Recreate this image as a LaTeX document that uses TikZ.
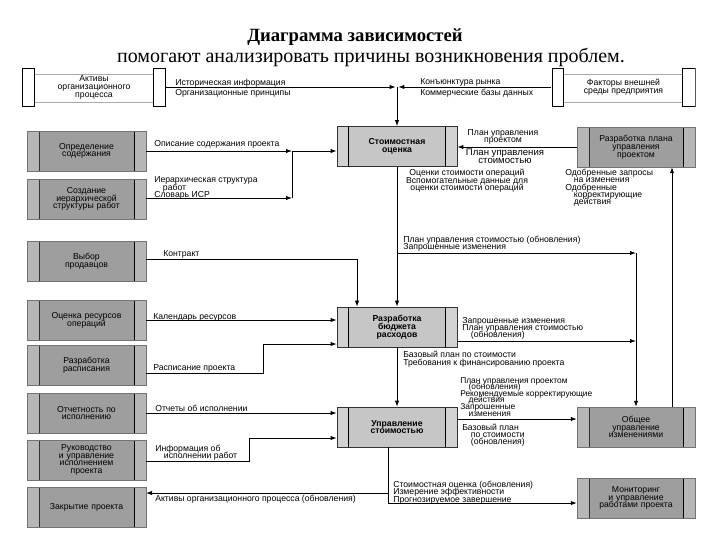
\documentclass[tikz,border=0pt]{standalone}
\usepackage{fontspec}
\setmainfont{Liberation Serif}
\newfontfamily\lblsf{Liberation Sans}
\usepackage{tikz}
\usetikzlibrary{arrows.meta,positioning,calc}
\definecolor{ProcGray}{HTML}{9E9E9E}
\definecolor{ProcStrip}{HTML}{B6B6B6}
\definecolor{TaskGray}{HTML}{C6C6C6}
\definecolor{TaskStrip}{HTML}{D2D2D2}
\definecolor{StoreLine}{HTML}{AAAAAA}
\newcommand{\lblfont}{\lblsf\fontsize{6.5}{5.5}\selectfont\lineskiplimit=-5pt\relax}
\newcommand{\boxfont}{\lblsf\fontsize{6.5}{5.8}\selectfont\lineskiplimit=-5pt\relax}
\newcommand{\bigfont}{\lblsf\fontsize{7.2}{6}\selectfont\lineskiplimit=-5pt\relax}
\newcommand{\tightfont}{\lblsf\fontsize{6.3}{4.95}\selectfont\lineskiplimit=-5pt\relax}

\begin{document}
\begin{tikzpicture}[x=0.75pt,y=-0.75pt,
  lbl/.style={font=\lblfont,inner sep=0pt,align=left,anchor=north west},
  clbl/.style={font=\lblfont,inner sep=0pt,align=center,anchor=north},
  flow/.style={-{Latex[length=4.5pt,width=3.2pt]},line width=0.6pt},
  link/.style={line width=0.6pt},
  store/.style={minimum width=108pt,minimum height=29pt,inner sep=0pt,align=center,font=\boxfont,
    path picture={
      \draw[StoreLine] ([yshift=-4.5pt]path picture bounding box.north west) -- ([yshift=-4.5pt]path picture bounding box.north east);
      \draw[StoreLine] ([yshift=3.8pt]path picture bounding box.south west) -- ([yshift=3.8pt]path picture bounding box.south east);
      \draw[fill=white,line width=0.7pt] ([xshift=0.4pt,yshift=-0.4pt]path picture bounding box.north west) rectangle ([xshift=9pt,yshift=0.4pt]path picture bounding box.south west);
      \draw[fill=white,line width=0.7pt] ([xshift=-0.4pt,yshift=-0.4pt]path picture bounding box.north east) rectangle ([xshift=-9.5pt,yshift=0.4pt]path picture bounding box.south east);
    }},
  proc/.style={fill=ProcGray,draw=black!55,line width=0.3pt,minimum width=89pt,minimum height=30pt,
    text width=66pt,align=center,inner sep=0pt,font=\boxfont,
    path picture={
      \fill[ProcStrip] (path picture bounding box.north west) rectangle ([xshift=9pt]path picture bounding box.south west);
      \fill[ProcStrip] (path picture bounding box.north east) rectangle ([xshift=-8.5pt]path picture bounding box.south east);
      \draw[black!80,line width=0.5pt] ([xshift=9pt]path picture bounding box.north west) -- ([xshift=9pt]path picture bounding box.south west);
      \draw[black,line width=1.2pt] ([xshift=-8.5pt]path picture bounding box.north east) -- ([xshift=-8.5pt]path picture bounding box.south east);
    }},
  task/.style={fill=TaskGray,draw=black!80,line width=0.5pt,minimum width=90pt,minimum height=30pt,
    text width=66pt,align=center,inner sep=0pt,font=\boxfont\bfseries,
    path picture={
      \fill[TaskStrip] (path picture bounding box.north west) rectangle ([xshift=8.3pt]path picture bounding box.south west);
      \fill[TaskStrip] (path picture bounding box.north east) rectangle ([xshift=-9pt]path picture bounding box.south east);
      \draw[black,line width=0.5pt] ([xshift=8.3pt]path picture bounding box.north west) -- ([xshift=8.3pt]path picture bounding box.south west);
      \draw[black,line width=0.5pt] ([xshift=-9pt]path picture bounding box.north east) -- ([xshift=-9pt]path picture bounding box.south east);
    }}]
\useasboundingbox[fill=white] (0,0) rectangle (720,540);

% title
\node[font=\bfseries\fontsize{14}{16}\selectfont] (ttl) at (355,37) {Диаграмма зависимостей};
\node[font=\fontsize{15}{17}\selectfont] (sub) at (371,57) {помогают анализировать причины возникновения проблем.};

% stores
\node[store] (actA) at (94,87.5) {Активы\\организационного\\процесса};
\node[store] (envF) at (623.5,87.5) {Факторы внешней\\среды предприятия};

% processes, left column
\node[proc] (scopeD) at (86.5,151) {Определение\\содержания};
\node[proc] (wbsC) at (86.5,199) {Создание\\иерархической\\структуры работ};
\node[proc] (sellS) at (86.5,261.5) {Выбор\\продавцов};
\node[proc] (resE) at (86.5,320) {Оценка ресурсов\\операций};
\node[proc] (schD) at (86.5,365) {Разработка\\расписания};
\node[proc] (perfR) at (86.5,413) {Отчетность по\\исполнению};
\node[proc] (execD) at (86.5,460) {Руководство\\и управление\\исполнением\\проекта};
\node[proc] (closeP) at (86.5,507) {Закрытие проекта};

% cost processes
\node[task] (costE) at (397,146.5) {Стоимостная\\оценка};
\node[task] (budD) at (397,327) {Разработка\\бюджета\\расходов};
\node[task] (costC) at (397,427) {Управление\\стоимостью};

% processes, right column
\node[proc,minimum width=88.5pt] (pmpD) at (636,147) {Разработка плана\\управления\\проектом};
\node[proc,minimum width=88.5pt] (chgC) at (636,427) {Общее\\управление\\изменениями};
\node[proc,minimum width=88.5pt] (monC) at (636,498) {Мониторинг\\и управление\\работами проекта};

% junctions
\coordinate (jTop) at (397,87);
\coordinate (jScope) at (292,151);
\coordinate (jWbs) at (292,198);
\coordinate (xApp) at (672,0);
\coordinate (jCE) at (397,253);
\coordinate (jCR) at (636,253);
\coordinate (jBR) at (636,341);
\coordinate (kSell) at (357,259);
\coordinate (kSch) at (263,373);
\coordinate (kSch2) at (263,344);
\coordinate (kExe) at (249,461);
\coordinate (kExe2) at (249,438);
\coordinate (kCC) at (0,419);
\coordinate (kMon) at (388,503);
\coordinate (kCls) at (388,493);

% connectors
\draw[flow] (actA.east |- jTop) -- ([xshift=-1pt]jTop);
\draw[flow] (envF.west |- jTop) -- ([xshift=1pt]jTop);
\draw[flow] (jTop) -- (jTop |- costE.north);
\draw[flow] (scopeD.east |- jScope) -- (jScope);
\draw[flow] (wbsC.east |- jWbs) -- (jWbs);
\draw[link] (jScope) -- (jWbs);
\draw[flow] (jScope) -- (jScope -| costE.west);
\draw[flow] (pmpD.west) -- (pmpD.west -| costE.east);
\draw[flow] (chgC.north -| xApp) -- (pmpD.south -| xApp);
\draw[flow] (costE.south) -- (budD.north);
\draw[flow] (jCE) -- (jCR);
\draw[flow] (jCR) -- (chgC.north);
\draw[flow] (budD.east |- jBR) -- (jBR);
\draw[flow] (sellS.east |- kSell) -- (kSell) -- (kSell |- budD.north);
\draw[flow] (resE.east) -- (resE.east -| budD.west);
\draw[flow] (schD.east |- kSch) -- (kSch) -- (kSch2) -- (kSch2 -| budD.west);
\draw[flow] (budD.south) -- (costC.north);
\draw[flow] (perfR.east) -- (perfR.east -| costC.west);
\draw[flow] (execD.east |- kExe) -- (kExe) -- (kExe2) -- (kExe2 -| costC.west);
\draw[flow] (costC.east |- kCC) -- (chgC.west |- kCC);
\draw[flow] (costC.south -| kMon) -- (kMon) -- (kMon -| monC.west);
\draw[flow] (kCls) -- (kCls -| closeP.east);

% labels
\node[lbl] (tHist) at (175,78.5) {Историческая информация};
\node[lbl] (tPol) at (175,89) {Организационные принципы};
\node[lbl] (tMkt) at (420,78.5) {Конъюнктура рынка};
\node[lbl] (tDb) at (420,89) {Коммерческие базы данных};
\node[lbl] (tScope) at (154,140) {Описание содержания проекта};
\node[lbl] (tWbs) at (154,176.5) {Иерархическая структура\\\hspace*{1em}работ\\Словарь ИСР};
\node[clbl] (tPmp) at (503,129) {План управления\\проектом};
\node[clbl,font=\bigfont] (tCmp) at (505,149) {План управления\\стоимостью};
\node[clbl] (tEst) at (467,169) {Оценки стоимости операций\\Вспомогательные данные для\\оценки стоимости операций};
\node[lbl] (tAppr) at (565,169) {Одобренные запросы\\\hspace*{1em}на изменения\\Одобренные\\\hspace*{1em}корректирующие\\\hspace*{1em}действия};
\node[lbl] (tCmpU) at (403,236) {План управления стоимостью (обновления)\\Запрошенные изменения};
\node[lbl] (tCtr) at (163,250) {Контракт};
\node[lbl] (tRes) at (153,313) {Календарь ресурсов};
\node[lbl] (tSch) at (153,364) {Расписание проекта};
\node[lbl] (tBudR) at (462,317) {Запрошенные изменения\\План управления стоимостью\\\hspace*{1em}(обновления)};
\node[lbl] (tBase) at (403,351) {Базовый план по стоимости\\Требования к финансированию проекта};
\node[lbl,font=\tightfont] (tPmpU) at (460,377) {План управления проектом\\\hspace*{1em}(обновления)\\Рекомендуемые корректирующие\\\hspace*{1em}действия\\Запрошенные\\\hspace*{1em}изменения};
\node[lbl] (tBaseU) at (462,423.5) {Базовый план\\\hspace*{1em}по стоимости\\\hspace*{1em}(обновления)};
\node[lbl] (tPerf) at (155,405) {Отчеты об исполнении};
\node[lbl] (tWork) at (155,445) {Информация об\\\hspace*{1em}исполнении работ};
\node[lbl] (tOpaU) at (155,495) {Активы организационного процесса (обновления)};
\node[lbl] (tFcst) at (393,481) {Стоимостная оценка (обновления)\\Измерение эффективности\\Прогнозируемое завершение};
\end{tikzpicture}
\end{document}
